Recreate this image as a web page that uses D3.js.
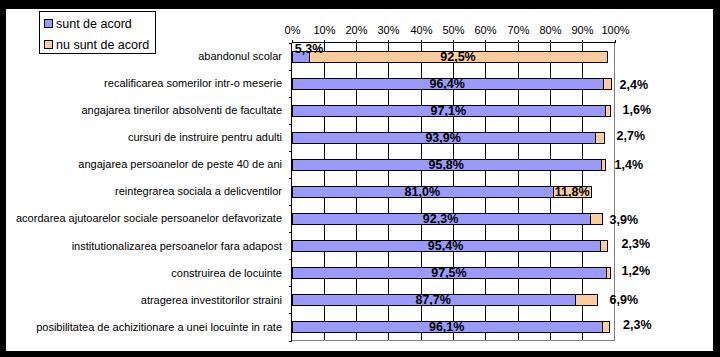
<!DOCTYPE html>
<html>
<head>
<meta charset="utf-8">
<script src="https://cdn.jsdelivr.net/npm/d3@7"></script>
<style>
html,body{margin:0;padding:0;background:#000;}
svg{display:block;}
text{font-family:"Liberation Sans",Arial,sans-serif;}
</style>
</head>
<body>
<svg id="chart" width="720" height="357"></svg>
<script>
// ---- data ----
const categories = [
  "abandonul scolar",
  "recalificarea somerilor intr-o meserie",
  "angajarea tinerilor absolventi de facultate",
  "cursuri de instruire pentru adulti",
  "angajarea persoanelor de peste 40 de ani",
  "reintegrarea sociala a delicventilor",
  "acordarea ajutoarelor sociale persoanelor defavorizate",
  "institutionalizarea persoanelor fara adapost",
  "construirea de locuinte",
  "atragerea investitorilor straini",
  "posibilitatea de achizitionare a unei locuinte in rate"
];
const agree    = [5.3, 96.4, 97.1, 93.9, 95.8, 81.0, 92.3, 95.4, 97.5, 87.7, 96.1];
const disagree = [92.5, 2.4, 1.6, 2.7, 1.4, 11.8, 3.9, 2.3, 1.2, 6.9, 2.3];
const seriesNames = ["sunt de acord", "nu sunt de acord"];
const tickValues = [0, 10, 20, 30, 40, 50, 60, 70, 80, 90, 100];

// ---- layout (label placement, not data) ----
// orange labels: null = inside segment, otherwise [dx from plot right edge, dy from band center]
const orangeOutside = [null, [5, 1], [8, -1], [2, -2], [0, 0], null, [-5, 0.5], [7, -2], [7, -2.5], [-5, -0.5], [8.5, -2]];
const agreeNudge = [[9, -7.5], [0,0],[0,0],[0,0],[0,0],[0,0],[0,0],[0,0],[0,0],[0,0],[0,0]];

const colors = ["#9999FF", "#FFCC99"];
const fmt = v => d3.format(".1f")(v).replace(".", ",") + "%";

const svg = d3.select("#chart");
svg.append("rect").attr("x", 6).attr("y", 9).attr("width", 707).attr("height", 342).attr("fill", "#fff");

const pLeft = 291.5, pRight = 614.5, pTop = 42.5, pBottom = 340.5;
const x = d3.scaleLinear().domain([0, 100]).range([pLeft, pRight]);
const y = d3.scaleBand().domain(categories).range([pTop, pBottom]).paddingInner(0.595).paddingOuter(0.2975);
const yTicks = d3.scaleBand().domain(categories).range([pTop, pBottom]).padding(0);
const cy = c => yTicks(c) + yTicks.bandwidth() / 2;

// gridlines
const g = svg.append("g").attr("shape-rendering", "crispEdges");
g.selectAll("line.grid").data(tickValues.filter(v => v > 0 && v < 100)).enter()
  .append("line").attr("class", "grid")
  .attr("x1", d => Math.round(x(d)) + 0.5).attr("x2", d => Math.round(x(d)) + 0.5)
  .attr("y1", pTop).attr("y2", pBottom).attr("stroke", "#000");

// plot border (grey right/bottom)
g.append("line").attr("x1", pRight).attr("x2", pRight).attr("y1", pTop).attr("y2", pBottom + 0.5).attr("stroke", "#808080");
g.append("line").attr("x1", pLeft).attr("x2", pRight).attr("y1", pBottom).attr("y2", pBottom).attr("stroke", "#808080");

// top axis
const xAxis = d3.axisTop(x).tickValues(tickValues).tickSize(3).tickFormat(d => d + "%");
const ax = svg.append("g").attr("transform", `translate(0,${pTop})`).call(xAxis);
ax.select(".domain").attr("stroke", "#000").attr("shape-rendering", "crispEdges").attr("d", `M${pLeft},0H${pRight}`);
ax.selectAll(".tick line").attr("stroke", "#000").attr("shape-rendering", "crispEdges");
ax.selectAll(".tick").attr("transform", d => `translate(${Math.round(x(d)) + 0.5},0)`);
ax.selectAll(".tick text").attr("font-family", "Liberation Sans, Arial, sans-serif").attr("font-size", "11px").attr("fill", "#000").attr("y", -8.5).attr("dy", 0);

// left axis
const ticksY = categories.map(c => yTicks(c)).concat([pBottom]);
g.append("line").attr("x1", pLeft).attr("x2", pLeft).attr("y1", pTop).attr("y2", pBottom).attr("stroke", "#000");
g.selectAll("line.yt").data(ticksY).enter().append("line").attr("class", "yt")
  .attr("x1", pLeft - 3).attr("x2", pLeft).attr("y1", d => Math.round(d) + 0.5).attr("y2", d => Math.round(d) + 0.5).attr("stroke", "#000");

// category labels
svg.selectAll("text.cat").data(categories).enter().append("text").attr("class", "cat")
  .attr("x", 282).attr("y", d => cy(d)).attr("dy", "0.35em").attr("text-anchor", "end")
  .attr("font-size", "11px").attr("fill", "#000").text(d => d);

// bars
const rows = categories.map((c, i) => ({c, i, a: agree[i], d: disagree[i]}));
const bars = svg.append("g").attr("shape-rendering", "crispEdges");
bars.selectAll("rect.a").data(rows).enter().append("rect").attr("class", "a")
  .attr("x", d => Math.round(x(0)) + 0.5).attr("y", d => Math.round(y(d.c)) + 0.5)
  .attr("width", d => Math.round(x(d.a)) - Math.round(x(0))).attr("height", Math.round(y.bandwidth()))
  .attr("fill", colors[0]).attr("stroke", "#000");
bars.selectAll("rect.d").data(rows).enter().append("rect").attr("class", "d")
  .attr("x", d => Math.round(x(d.a)) + 0.5).attr("y", d => Math.round(y(d.c)) + 0.5)
  .attr("width", d => Math.round(x(d.a + d.d)) - Math.round(x(d.a))).attr("height", Math.round(y.bandwidth()))
  .attr("fill", colors[1]).attr("stroke", "#000");

// value labels
const lab = svg.append("g").attr("font-weight", "bold").attr("font-size", "12.5px").attr("fill", "#000");
lab.selectAll("text.av").data(rows).enter().append("text").attr("class", "av")
  .attr("x", d => (x(0) + x(d.a)) / 2 + agreeNudge[d.i][0])
  .attr("y", d => cy(d.c) + agreeNudge[d.i][1]).attr("dy", "0.36em").attr("text-anchor", "middle")
  .text(d => fmt(d.a));
lab.selectAll("text.dv").data(rows).enter().append("text").attr("class", "dv")
  .attr("x", d => orangeOutside[d.i] ? pRight + orangeOutside[d.i][0] : (x(d.a) + x(d.a + d.d)) / 2)
  .attr("y", d => cy(d.c) + (orangeOutside[d.i] ? orangeOutside[d.i][1] : 0)).attr("dy", "0.36em")
  .attr("text-anchor", d => orangeOutside[d.i] ? "start" : "middle")
  .text(d => fmt(d.d));

// legend
const leg = svg.append("g");
leg.append("rect").attr("x", 39.5).attr("y", 11.5).attr("width", 116).attr("height", 42)
  .attr("fill", "#fff").attr("stroke", "#000").attr("shape-rendering", "crispEdges");
seriesNames.forEach((s, i) => {
  const yy = 19.5 + i * 21;
  leg.append("rect").attr("x", 44.5).attr("y", yy).attr("width", 8).attr("height", 8)
    .attr("fill", colors[i]).attr("stroke", "#000").attr("shape-rendering", "crispEdges");
  leg.append("text").attr("x", 56).attr("y", yy + 8).attr("font-size", "12.5px").attr("fill", "#000").text(s);
});
</script>
</body>
</html>
